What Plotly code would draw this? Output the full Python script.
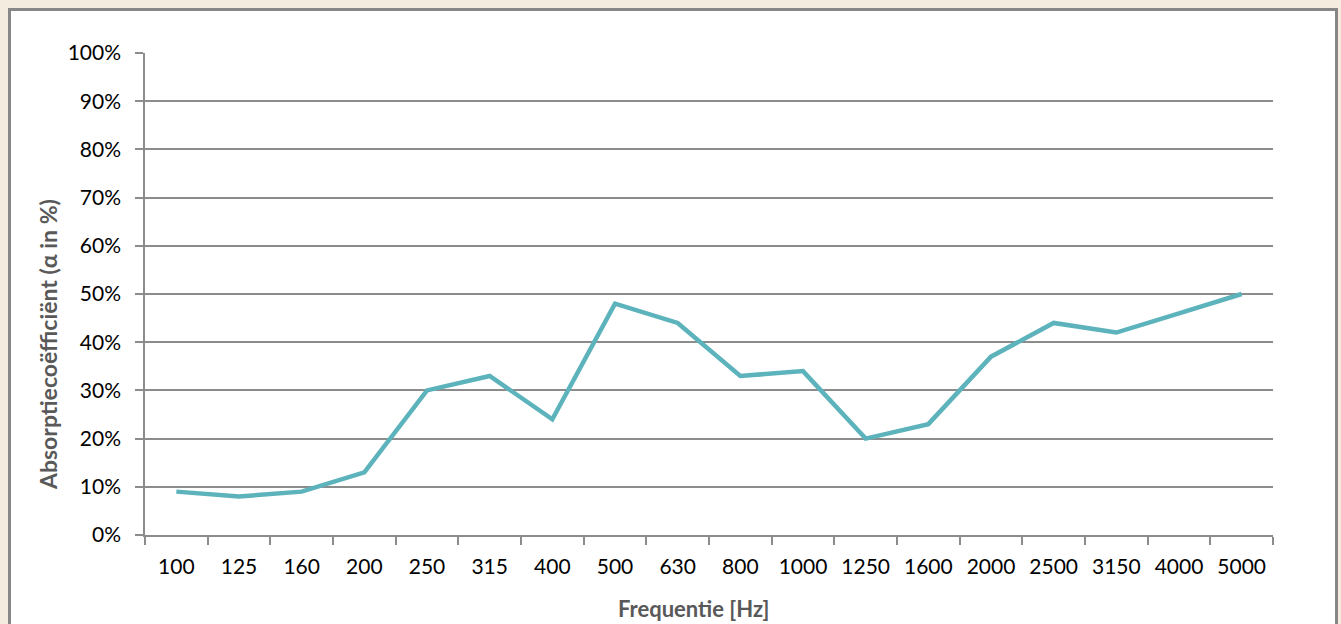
import plotly.graph_objects as go

frequencies = ["100", "125", "160", "200", "250", "315", "400", "500", "630", "800",
               "1000", "1250", "1600", "2000", "2500", "3150", "4000", "5000"]
absorption = [0.09, 0.08, 0.09, 0.13, 0.30, 0.33, 0.24, 0.48, 0.44, 0.33,
              0.34, 0.20, 0.23, 0.37, 0.44, 0.42, 0.46, 0.50]
y_title = "Absorptiecoëfficiënt (α in %)"
x_title = "Frequentie [Hz]"

W, H = 1341, 624
L, R, T, B = 145, 1273, 53, 535
pw, ph = R - L, B - T

def px(x):
    return (x - L) / pw

def py(y):
    return (B - y) / ph

font_family = "Lato, 'Open Sans', sans-serif"

fig = go.Figure()
fig.add_trace(go.Scatter(
    x=frequencies, y=absorption, mode="lines",
    line=dict(color="#5cb3bb", width=4.5),
    hoverinfo="x+y",
))

fig.update_layout(
    width=W, height=H,
    margin=dict(l=L, r=W - R, t=T, b=H - B),
    paper_bgcolor="#f3ecdf",
    plot_bgcolor="rgba(0,0,0,0)",
    showlegend=False,
    font=dict(family=font_family, size=21, color="#000000"),
    xaxis=dict(
        type="category",
        range=[-0.5, len(frequencies) - 0.5],
        showgrid=False,
        showline=True, linecolor="#8c8c8c", linewidth=1.5,
        ticks="outside", tickson="boundaries", ticklen=8,
        tickcolor="#8c8c8c", tickwidth=1.5,
        tickfont=dict(size=21, family=font_family, color="#000"),
        ticklabelstandoff=12,
        fixedrange=True,
    ),
    yaxis=dict(
        range=[0, 1], dtick=0.1, tickformat=".0%",
        showgrid=True, gridcolor="#8c8c8c", gridwidth=1.5,
        showline=True, linecolor="#8c8c8c", linewidth=1.5,
        ticks="outside", ticklen=8, tickcolor="#8c8c8c", tickwidth=1.5,
        tickfont=dict(size=21, family=font_family, color="#000"),
        zeroline=False,
        ticklabelstandoff=10,
        fixedrange=True,
    ),
    shapes=[dict(
        type="rect", xref="paper", yref="paper", layer="below",
        x0=px(9.5), x1=px(1336.5), y0=py(640), y1=py(9.5),
        fillcolor="#ffffff", line=dict(color="#878787", width=3),
    )],
    annotations=[
        dict(text="<b>" + y_title + "</b>", xref="paper", yref="paper",
             x=px(48), y=py(345), textangle=-90, showarrow=False,
             font=dict(size=23, color="#595959", family=font_family),
             xanchor="center", yanchor="middle"),
        dict(text="<b>" + x_title + "</b>", xref="paper", yref="paper",
             x=px(694), y=py(608), showarrow=False,
             font=dict(size=22, color="#595959", family=font_family),
             xanchor="center", yanchor="middle"),
    ],
)

fig.write_html(
    "out.html",
    config={"displayModeBar": False},
    post_script="document.body.style.margin='0';document.body.style.overflow='hidden';",
)
